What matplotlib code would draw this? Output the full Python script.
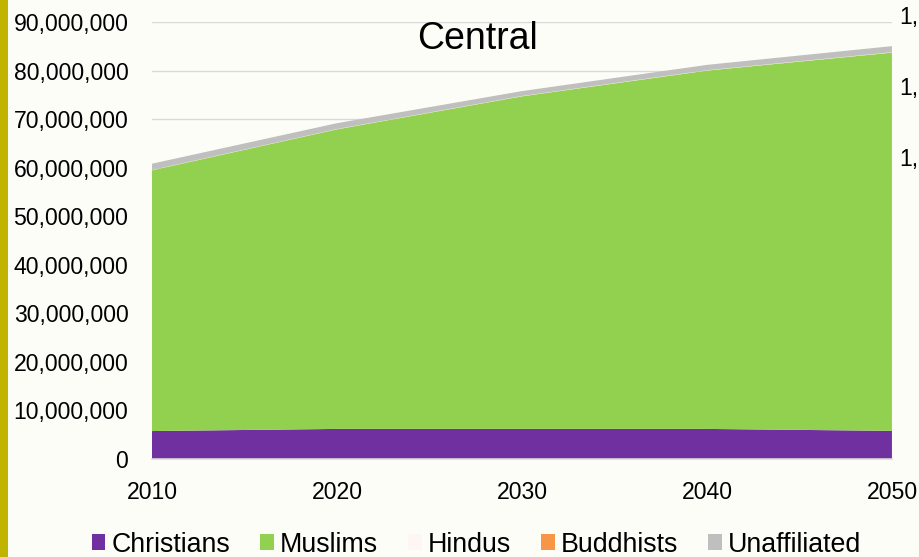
#!/usr/bin/env python3
"""Stacked area chart of projected religious populations, Central region."""

import matplotlib

matplotlib.use("Agg")

import matplotlib.pyplot as plt
from matplotlib.patches import Patch
from matplotlib.ticker import FuncFormatter

YEARS = [2010, 2020, 2030, 2040, 2050]
CHRISTIANS = [5_760_000, 6_200_000, 6_200_000, 6_200_000, 5_800_000]
MUSLIMS = [53_700_000, 61_700_000, 68_500_000, 73_800_000, 77_900_000]
HINDUS = [40_000, 45_000, 50_000, 55_000, 60_000]
BUDDHISTS = [20_000, 20_000, 20_000, 20_000, 20_000]
UNAFFILIATED = [1_300_000, 1_200_000, 1_000_000, 1_100_000, 1_250_000]
LABELS = ["Christians", "Muslims", "Hindus", "Buddhists", "Unaffiliated"]

COLORS = {
    "paper": "#fdfdf8",
    "christians": "#7030a0",
    "muslims": "#92d050",
    "hindus": "#fdf6f4",
    "buddhists": "#f79646",
    "unaffiliated": "#bfbfbf",
    "grid": "#d9d9d9",
    "bar": "#c0b400",
}

plt.rcParams["font.family"] = ["Liberation Sans", "DejaVu Sans"]

fig = plt.figure(figsize=(9.2, 5.57), dpi=100, facecolor=COLORS["paper"])
ax = fig.add_axes([0.1652, 0.1759, 0.8043, 0.7846])
ax.set_facecolor(COLORS["paper"])

fills = [COLORS["christians"], COLORS["muslims"], COLORS["hindus"],
         COLORS["buddhists"], COLORS["unaffiliated"]]
ax.stackplot(YEARS, CHRISTIANS, MUSLIMS, HINDUS, BUDDHISTS, UNAFFILIATED,
             colors=fills, linewidth=0, zorder=2)

ax.set_xlim(YEARS[0], YEARS[-1])
ax.set_ylim(0, 90_000_000)
ax.set_xticks(YEARS)
ax.set_yticks(range(0, 90_000_001, 10_000_000))
ax.yaxis.set_major_formatter(FuncFormatter(lambda v, _: f"{int(v):,}"))
ax.grid(axis="y", color=COLORS["grid"], lw=1.0, zorder=0)
ax.tick_params(axis="both", length=0, labelsize=16.6, colors="black")
ax.tick_params(axis="y", pad=17)
ax.tick_params(axis="x", pad=16)
for side in ("top", "right", "left"):
    ax.spines[side].set_visible(False)
ax.spines["bottom"].set_color(COLORS["grid"])
ax.spines["bottom"].set_linewidth(1.2)

ax.text(0.44, 0.96, "Central", transform=ax.transAxes, ha="center", va="center",
        fontsize=27)

handles = [Patch(facecolor=c, edgecolor="none") for c in fills]
fig.legend(handles, LABELS, loc="center", bbox_to_anchor=(0.518, 0.022), ncol=5,
           frameon=False, fontsize=19.3, handlelength=0.52, handleheight=0.52,
           handletextpad=0.22, columnspacing=1.12)

# left accent bar
fig.patches.append(plt.Rectangle((0, 0), 8 / 920, 1, transform=fig.transFigure,
                                 facecolor=COLORS["bar"], edgecolor="none"))

# labels of the neighbouring chart at the right edge
for y in (0.968, 0.842, 0.713):
    fig.text(0.977, y, "1,", fontsize=16.6, ha="left", va="center")

fig.savefig("out.png", dpi=100, facecolor=COLORS["paper"])
